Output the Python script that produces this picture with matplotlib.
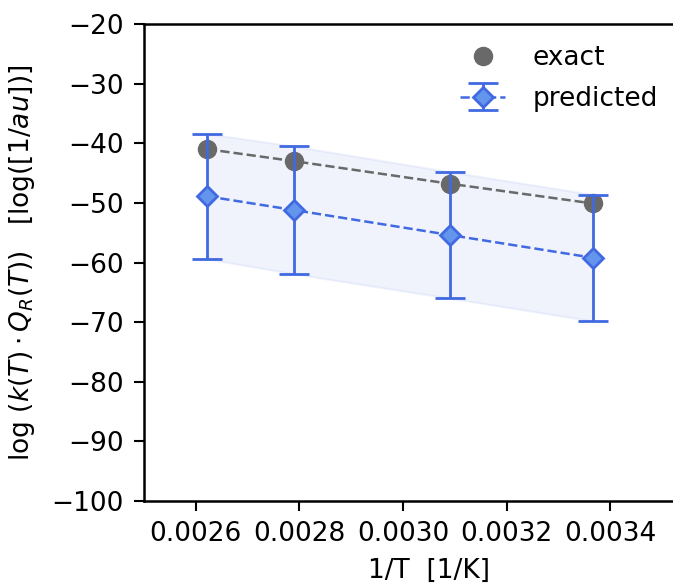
import numpy as np
import matplotlib
matplotlib.use('Agg')
import matplotlib.pyplot as plt

# inverse temperatures [1/K]
inv_T = [0.002622, 0.002789, 0.003091, 0.003366]
# log(k*Q_R) values
exact = [-41.0, -43.0, -46.8, -50.1]
predicted = [-48.9, -51.2, -55.4, -59.2]
pred_err = [10.5, 10.7, 10.6, 10.6]

plt.rcParams['font.size'] = 19

fig = plt.figure(figsize=(6.73, 5.84), dpi=100)
ax = fig.add_axes([0.214, 0.142, 0.847, 0.817])

pred = np.array(predicted)
err = np.array(pred_err)
ax.fill_between(inv_T, pred - err, pred + err, color='royalblue', alpha=0.08, lw=1.5)

ax.plot(inv_T, exact, ls='--', color='dimgray', lw=1.8, zorder=3)
ax.plot(inv_T, exact, 'o', color='dimgray', ms=13, ls='none', label='exact', zorder=4)
ax.errorbar(inv_T, predicted, yerr=pred_err, fmt='D--', color='royalblue',
            mfc='cornflowerblue', mec='royalblue', mew=2, ms=10, lw=1.8,
            elinewidth=2, capsize=11, capthick=2.2, label='predicted', zorder=5)

ax.set_xlim(0.0025, 0.0036)
ax.set_ylim(-100, -20)
ax.set_xticks([0.0026, 0.0028, 0.0030, 0.0032, 0.0034])
ax.set_xticklabels(['0.0026', '0.0028', '0.0030', '0.0032', '0.0034'])
ax.set_yticks(range(-100, -19, 10))

for s in ax.spines.values():
    s.set_linewidth(1.8)
ax.tick_params(length=7, width=1.5)
ax.tick_params(axis='x', pad=7.5)
ax.tick_params(axis='y', pad=7.8)

ax.set_xlabel('1/T  [1/K]', labelpad=8)
ax.set_ylabel(r'$\log\,(k(T) \cdot Q_R(T))$   [log([1/$au$])]', labelpad=10)

ax.legend(loc='upper left', bbox_to_anchor=(0.513, 1.005), frameon=False,
          handlelength=1.7, handletextpad=1.05, labelspacing=0.55)

fig.savefig('out.png', dpi=100)
